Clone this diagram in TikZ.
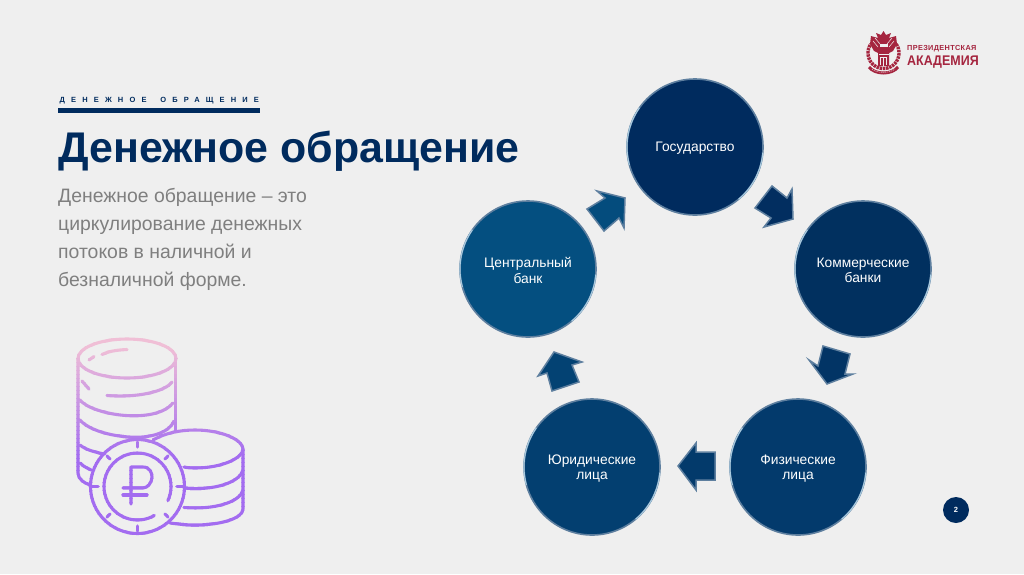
\documentclass[tikz,border=0pt]{standalone}
\usepackage{fontspec}
\setmainfont{Liberation Sans}
\definecolor{bgc}{HTML}{EFEFEF}
\definecolor{navy}{HTML}{002B5E}
\definecolor{txtg}{HTML}{7F7F7F}
\definecolor{crim}{HTML}{A5253F}
\definecolor{pnk}{HTML}{F0BFD6}
\definecolor{pur}{HTML}{A36CF0}
\definecolor{rimd}{HTML}{5E7F9F}
\definecolor{riml}{HTML}{A9CBE0}
\definecolor{cgos}{HTML}{002B5E}
\definecolor{ckom}{HTML}{01305F}
\definecolor{cfiz}{HTML}{033A6C}
\definecolor{cyur}{HTML}{033F70}
\definecolor{ccen}{HTML}{044F80}
\definecolor{aa}{HTML}{022E60}
\definecolor{ab}{HTML}{023465}
\definecolor{ac}{HTML}{033A6B}
\definecolor{ad}{HTML}{034273}
\definecolor{ae}{HTML}{044C7D}
\tikzset{
  x=1pt,y=-1pt,
  ctext/.style={text=white,font=\fontsize{13.8}{15.5}\selectfont,align=center},
  bodytext/.style={text=txtg,font=\fontsize{19.4}{24}\selectfont,anchor=base west,inner sep=0pt},
  coinline/.style={line width=3.1pt,line cap=round,line join=round},
}
% circle: #1 name, #2 x, #3 y, #4 colour, #5 text
\newcommand{\bubble}[5]{%
  \fill[#4] (#2,#3) circle[radius=68];
  \draw[rimd,line width=1.6pt] (#2,#3) circle[radius=68];
  \draw[riml,line width=1.1pt,line cap=round] plot[domain=5:50,samples=24,smooth] ({#2+68*cos(\x)},{#3+68*sin(\x)});
  \draw[riml,line width=1.1pt,line cap=round] plot[domain=165:215,samples=24,smooth] ({#2+68*cos(\x)},{#3+68*sin(\x)});
  \node[ctext] (#1) at (#2,#3+1.5) {#5};
}
% block arrow: colour, then polygon
\newcommand{\blockarrow}[2]{%
  \fill[#1,draw=rimd,line width=1.5pt,line join=miter] #2 -- cycle;
}
\newcommand{\coinpaths}{%
  % tall stack: top ellipse and highlights
  \draw[coinline] (127,358.5) ellipse[x radius=49,y radius=19.5];
  \draw[coinline] (102,354.5) .. controls (108,351.5) and (116,350) .. (127,349.5);
  \draw[coinline] (89,360) -- (94,356.5);
  % tall stack: sides
  \draw[coinline] (78,358.5) -- (78,473) .. controls (78,479) and (84,483) .. (90,485);
  \draw[coinline] (175.5,358.5) -- (175.5,431);
  % tall stack: layers
  \draw[coinline] (82,381) -- (89,389);
  \draw[coinline] (107,395.5) .. controls (135,398) and (165,392) .. (172,382);
  \draw[coinline] (80,400) .. controls (92,415) and (155,425) .. (173,403);
  \draw[coinline] (80,420) .. controls (92,434) and (130,440) .. (150,436) .. controls (160,434) and (170,430) .. (174,421);
  \draw[coinline] (80,445) .. controls (86,450) and (95,452) .. (104,454);
  \draw[coinline] (80,463) .. controls (85,468) and (90,469) .. (91,470);
  % short stack
  \draw[coinline] (153,440) .. controls (165,433) and (180,430) .. (195,430) .. controls (222,430) and (243,440) .. (243,449);
  \draw[coinline] (243,449) .. controls (243,458) and (222,468) .. (195,468) .. controls (192,468) and (189,468) .. (184,467);
  \draw[coinline] (243,449) -- (243,509) .. controls (243,518) and (222,525) .. (195,525) .. controls (185,525) and (178,524) .. (170,523);
  \draw[coinline] (184,488) .. controls (215,491) and (240,482) .. (243,470);
  \draw[coinline] (184,507.5) .. controls (215,510) and (240,502) .. (243,490);
  % front coin
  \draw[coinline] (137.5,486.5) circle[radius=47];
  \draw[coinline] plot[domain=-300:25,samples=60,smooth] ({137.5+33.5*cos(\x)},{486.5+33.5*sin(\x)});
  % ticks
  \draw[coinline] (137.5,442) -- (137.5,447);
  \draw[coinline] (137.5,526) -- (137.5,531);
  \draw[coinline] (92,486.5) -- (98,486.5);
  \draw[coinline] (177,486.5) -- (183,486.5);
  \draw[coinline] (107,456) -- (110,459);
  \draw[coinline] (168,456) -- (165,459);
  \draw[coinline] (107,517) -- (110,514);
  \draw[coinline] (168,517) -- (165,514);
  % rouble sign
  \draw[coinline] (131,504) -- (131,467) -- (143,467) .. controls (150,467) and (152,473) .. (152,477) .. controls (152,482) and (148,488) .. (143,488) -- (123,488);
  \draw[coinline] (123,495) -- (147,495);
}
\begin{document}
\begin{tikzpicture}
\useasboundingbox (0,0) rectangle (1024,574);
\fill[bgc] (0,0) rectangle (1024,574);

% header
\node[anchor=west,inner sep=0pt,text=navy,font=\fontsize{7.5}{9}\bfseries\addfontfeature{LetterSpace=82}\selectfont] (kicker) at (59.5,101) {ДЕНЕЖНОЕ\hspace{5.5pt} ОБРАЩЕНИЕ};
\fill[navy] (58,108) rectangle (260,112.5);
\node[anchor=base west,inner sep=0pt,text=navy,font=\fontsize{42.9}{48}\bfseries\selectfont] (title) at (58,162.5) {Денежное обращение};
\node[bodytext] (l1) at (58,202) {Денежное обращение – это};
\node[bodytext] (l2) at (58,230) {циркулирование денежных};
\node[bodytext] (l3) at (58,258) {потоков в наличной и};
\node[bodytext] (l4) at (58,286) {безналичной форме.};

% coins with vertical gradient
\foreach \i in {0,...,52}{
  \pgfmathsetmacro{\ya}{334+\i*4}
  \pgfmathsetmacro{\yb}{\ya+4.4}
  \pgfmathsetmacro{\pc}{min(100,max(0,(\ya-345)/(455-345)*100))}
  \colorlet{bandc}{pur!\pc!pnk}
  \begin{scope}
    \clip (60,\ya) rectangle (260,\yb);
    \begin{scope}[draw=bandc]
      \coinpaths
    \end{scope}
  \end{scope}
}

% arrows
\blockarrow{aa}{(772,186) -- (787,198) -- (792,189) -- (793,219) -- (764,227) -- (771,218) -- (755,208)}
\blockarrow{ab}{(823,346) -- (850,354) -- (845,374) -- (853,374) -- (827,384) -- (809,360) -- (818,366)}
\blockarrow{ac}{(715,452) -- (696,452) -- (696,443) -- (678,466) -- (696,490) -- (696,480) -- (715,480)}
\blockarrow{ad}{(552,391) -- (547,373) -- (538,376) -- (554,352) -- (582,362) -- (572,365) -- (579,382)}
\blockarrow{ae}{(587,209) -- (605,198) -- (597,191) -- (625,198) -- (624,228) -- (619,218) -- (604,231)}

% circles
\bubble{gos}{695}{147}{cgos}{Государство}
\bubble{kom}{863}{269}{ckom}{Коммерческие\\банки}
\bubble{fiz}{798}{467}{cfiz}{Физические\\лица}
\bubble{yur}{592}{467}{cyur}{Юридические\\лица}
\bubble{cen}{528}{269}{ccen}{Центральный\\банк}

% page badge
\fill[navy] (956,510) circle[radius=13];
\node[text=white,font=\fontsize{7.5}{9}\bfseries\selectfont,inner sep=0pt] (page) at (956,510) {2};

% logo crest: wreath
\draw[crim,line width=3.4pt,dash pattern=on 2.4pt off 0.8pt] plot[domain=-35:215,samples=40,smooth] ({883.5+15.5*cos(\x)},{53+15.5*sin(\x)});
% eagle
\fill[crim] (883.5,31) -- (886,35) -- (891,33) -- (889,38) -- (896,36) -- (897,44) -- (893,51) -- (889,53) -- (889,66) -- (878,66) -- (878,53) -- (874,51) -- (870,44) -- (871,36) -- (878,38) -- (876,33) -- (881,35) -- cycle;
\draw[bgc,line width=.5pt] (873,41) -- (878,47) (894,41) -- (889,47) (875,38) -- (880,44) (892,38) -- (887,44);
\fill[bgc] (879.5,44) rectangle (887.5,47);
\fill[bgc] (878.5,53.5) rectangle (888.5,55);
\fill[bgc] (880,57) rectangle (887,65);
\fill[crim] (881,58) rectangle (886,66);
\draw[bgc,line width=.6pt] (883.5,58) -- (883.5,66);
% banner
\draw[crim,line width=3pt] (869,67) .. controls (875,75) and (892,75) .. (898,67);
\draw[bgc,line width=.5pt,dash pattern=on 1pt off 1pt] (872,69) .. controls (877,73.5) and (890,73.5) .. (895,69);
\node[anchor=base west,inner sep=0pt,text=crim,font=\fontsize{7.3}{9}\bfseries\addfontfeature{LetterSpace=5}\selectfont] (logoa) at (907,50.5) {ПРЕЗИДЕНТСКАЯ};
\node[anchor=base west,inner sep=0pt,text=crim,xscale=.89,font=\fontsize{14}{16}\bfseries\selectfont] (logob) at (907,65) {АКАДЕМИЯ};
\end{tikzpicture}
\end{document}
